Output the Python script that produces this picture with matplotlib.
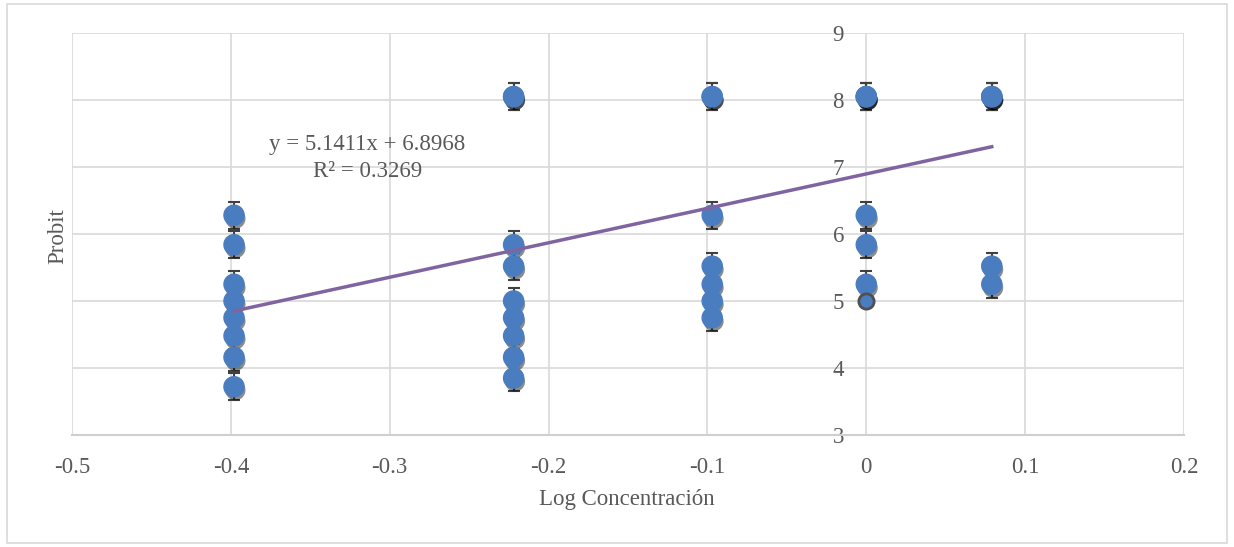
import matplotlib
matplotlib.use("Agg")
import matplotlib.pyplot as plt
from matplotlib import patheffects as pe
from matplotlib.patches import Rectangle
import numpy as np

# data
log_conc = [-0.398, -0.222, -0.097, 0.0, 0.079]
probit_by_dose = [
    [6.28, 5.84, 5.25, 5.00, 4.75, 4.48, 4.16, 3.72],
    [8.05, 8.05, 5.84, 5.52, 5.00, 4.75, 4.48, 4.16, 3.85],
    [8.05, 8.05, 6.28, 5.52, 5.25, 5.00, 4.75],
    [8.05, 8.05, 8.05, 6.28, 5.84, 5.25],
    [8.05, 8.05, 8.05, 5.52, 5.25],
]
outlined_x = [0.0]
outlined_y = [5.00]
err = 0.2
slope = 5.1411
intercept = 6.8968
r2 = 0.3269

xticks = [-0.5, -0.4, -0.3, -0.2, -0.1, 0.0, 0.1, 0.2]
xtick_labels = ["-0.5", "-0.4", "-0.3", "-0.2", "-0.1", "0", "0.1", "0.2"]
yticks = [3, 4, 5, 6, 7, 8, 9]

plt.rcParams['font.family'] = ['Liberation Serif', 'DejaVu Serif']
txt_col = '#595959'
grid_col = '#D9D9D9'
blue = '#4A7DC0'
fs = 16.5

W, H = 1234, 547
fig = plt.figure(figsize=(W / 100, H / 100), dpi=100)
ax = fig.add_axes([72 / W, 112 / H, 1112 / W, 402 / H])

# outer chart border
fig.patches.append(Rectangle((7 / W, 4 / H), 1220 / W, 539 / H, transform=fig.transFigure,
                             fill=False, edgecolor=grid_col, lw=1.2))

x = []
y = []
for xi, ys in zip(log_conc, probit_by_dose):
    for yi in ys:
        x.append(xi)
        y.append(yi)

ax.errorbar(x, y, yerr=err, fmt='none', ecolor='#404040', elinewidth=1.5,
            capsize=4.3, capthick=1.5, zorder=3)
shadow = [pe.SimplePatchShadow(offset=(1, -2.5), shadow_rgbFace='black', alpha=0.45), pe.Normal()]
ax.scatter(x, y, s=14.5 ** 2, color=blue, zorder=4, path_effects=shadow)
ax.scatter(outlined_x, outlined_y, s=11 ** 2, facecolor=blue, edgecolor='#505050',
           linewidth=2, zorder=5)

# linear trendline
xs = np.array([min(log_conc), max(log_conc)])
ax.plot(xs, slope * xs + intercept, color='#8064A2', lw=2.5, zorder=6)

ax.text(-0.314, 7.33, f"y = {slope}x + {intercept}", ha='center', va='center',
        fontsize=fs, color=txt_col)
ax.text(-0.314, 6.94, f"R² = {r2}", ha='center', va='center', fontsize=fs, color=txt_col)

ax.set_xlim(-0.5, 0.2)
ax.set_ylim(3, 9)
ax.set_xticks(xticks)
ax.set_xticklabels(xtick_labels)
ax.set_yticks(yticks)
ax.grid(color=grid_col, lw=1.2)
ax.set_axisbelow(True)

for s in ['top', 'right']:
    ax.spines[s].set_visible(False)
ax.spines['left'].set_position(('data', 0))
ax.spines['left'].set_color('none')
ax.spines['bottom'].set_color('#CFCFCF')
ax.spines['bottom'].set_linewidth(1.5)

ax.tick_params(axis='both', length=0, labelsize=fs, labelcolor=txt_col)
ax.tick_params(axis='x', pad=16)
ax.tick_params(axis='y', pad=16)

fig.text(627 / W, 1 - 500 / H, "Log Concentración", ha='center', va='center',
         fontsize=fs, color=txt_col)
fig.text(58 / W, 1 - 236 / H, "Probit", ha='center', va='center', rotation=90,
         fontsize=fs, color=txt_col)

fig.savefig("out.png", dpi=100)
